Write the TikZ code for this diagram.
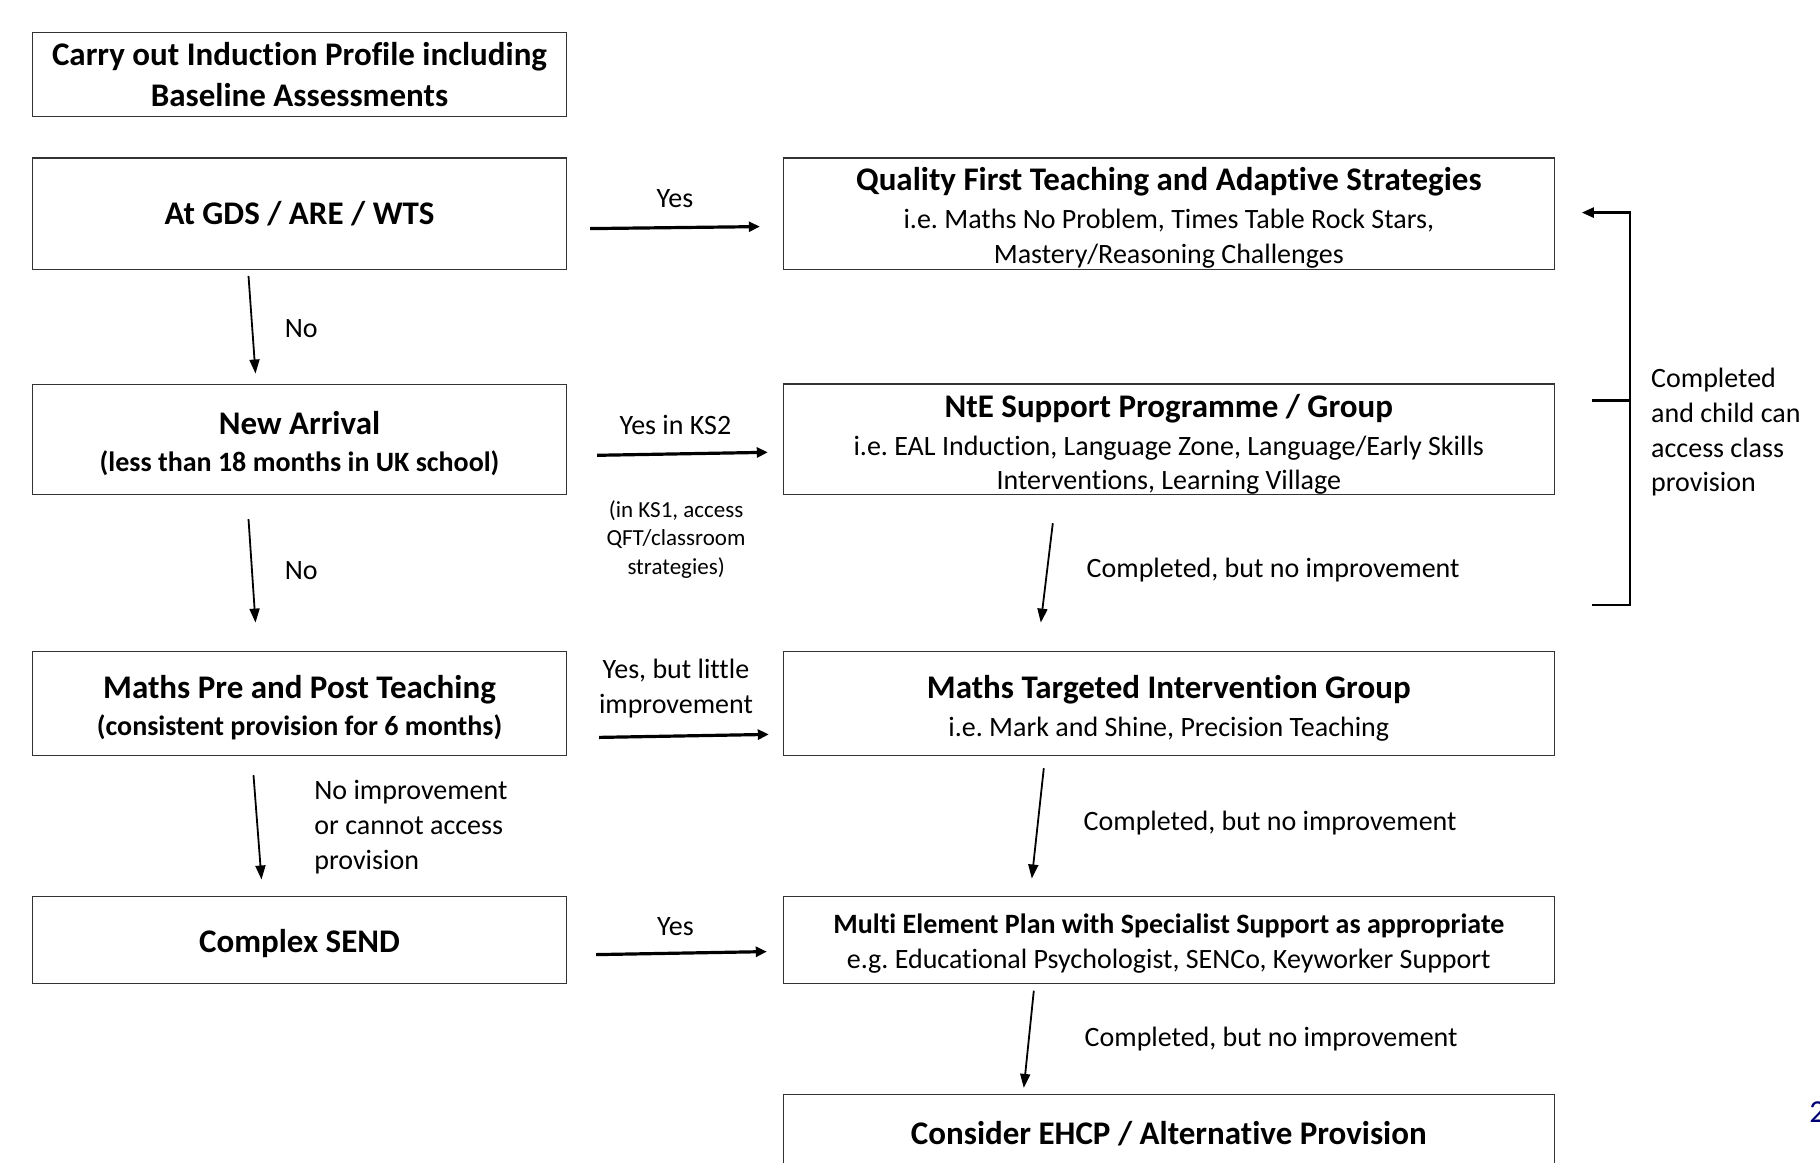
\documentclass[tikz,border=0pt]{standalone}
\usepackage{fontspec}
\setmainfont{Carlito}[Ligatures=NoCommon]
\usetikzlibrary{positioning,calc,arrows.meta}
\newcommand{\boxhead}{\fontsize{16.5}{20.3}\selectfont\bfseries}
\newcommand{\boxtext}{\fontsize{14}{17.4}\selectfont}
\newcommand{\notetext}{\fontsize{11.5}{14.2}\selectfont}
\newcommand{\toplift}[1]{\rule{0pt}{#1}}
\frenchspacing

\begin{document}
\begin{tikzpicture}[x=0.5pt, y=-0.5pt, font=\boxtext]
    \tikzstyle{box}=[draw=black!80, line width=0.6pt, align=center, inner sep=0pt]
    \tikzstyle{lbox}=[box, minimum width=267pt]
    \tikzstyle{rbox}=[box, minimum width=385.4pt]
    \tikzstyle{harrow}=[-{Triangle[length=5.5pt,width=5pt]}, line width=1.6pt]
    \tikzstyle{varrow}=[-{Triangle[length=7pt,width=5pt]}, line width=0.9pt]
    \tikzstyle{lbl}=[inner sep=2pt, align=center]
    \useasboundingbox (0,0) rectangle (1820,1162);

    % left column
    \node (induction) [lbox, minimum height=41.8pt, font=\boxhead] at (299.5,74.3) {Carry out Induction Profile including\\Baseline Assessments};
    \node (gds) [lbox, minimum height=55.7pt, below of=induction, node distance=69.65pt] {\boxhead At GDS / ARE / WTS};
    \node (new) [lbox, minimum height=55.2pt, below of=gds, node distance=112.85pt] {{\boxhead\toplift{16pt}New Arrival}\\[1.2pt]\bfseries (less than 18 months in UK school)};
    \node (pre) [lbox, minimum height=52.2pt, below of=new, node distance=132.05pt] {{\boxhead\toplift{16pt}Maths Pre and Post Teaching}\\[1.2pt]\bfseries (consistent provision for 6 months)};
    \node (send) [lbox, minimum height=43.5pt, below of=pre, node distance=118.1pt] {\boxhead\toplift{15.5pt}Complex SEND};

    % right column
    \node (qft) [rbox, minimum height=55.7pt, right of=gds, node distance=434.65pt] {{\boxhead\toplift{16pt}Quality First Teaching and Adaptive Strategies}\\[1.6pt]i.e. Maths No Problem, Times Table Rock Stars,\\Mastery/Reasoning Challenges};
    \node (nte) [rbox, minimum height=55.2pt, right of=new, node distance=434.65pt] {{\boxhead\toplift{16.5pt}NtE Support Programme / Group}\\[1.6pt]i.e. EAL Induction, Language Zone, Language/Early Skills\\Interventions, Learning Village};
    \node (tgt) [rbox, minimum height=52.2pt, right of=pre, node distance=434.65pt] {{\boxhead\toplift{16pt}Maths Targeted Intervention Group}\\[1.6pt]i.e. Mark and Shine, Precision Teaching};
    \node (mep) [rbox, minimum height=43.5pt, right of=send, node distance=434.65pt] {{\bfseries\toplift{14pt}Multi Element Plan with Specialist Support as appropriate}\\e.g. Educational Psychologist, SENCo, Keyworker Support};
    \node (ehcp) [rbox, minimum height=39.5pt, below of=mep, node distance=97.2pt] {\boxhead Consider EHCP / Alternative Provision};

    % across
    \draw[harrow] ($(gds.east)+(23,15)$) -- node[lbl, above=7pt] {Yes} ($(qft.west)+(-23,13)$);
    \draw[harrow] ($(new.east)+(30,16)$) -- node[lbl, above=7pt, xshift=-3.5pt] {Yes in KS2} ($(nte.west)+(-15,13)$);
    \node (ks1) [lbl, font=\notetext] at ($(new.east)+(109,100)$) {(in KS1, access\\QFT/classroom\\strategies)};
    \draw[harrow] ($(pre.east)+(32,34)$) -- node[lbl, above=6pt, xshift=-4pt] {Yes, but little\\improvement} ($(tgt.west)+(-14,31)$);
    \draw[harrow] ($(send.east)+(29,15)$) -- node[lbl, above=6pt, xshift=-3pt] {Yes} ($(mep.west)+(-16,12)$);

    % down the left
    \draw[varrow] ($(gds.south)+(-51,6)$) -- node[lbl, right=14pt, yshift=-2pt] {No} ($(new.north)+(-44,-10)$);
    \draw[varrow] ($(new.south)+(-51,24)$) -- node[lbl, right=14pt] {No} ($(pre.north)+(-44,-28)$);
    \draw[varrow] ($(pre.south)+(-46,19)$) -- node[lbl, right=26pt, align=left] {No improvement\\or cannot access\\provision} ($(send.north)+(-38,-16)$);

    % down the right
    \draw[varrow] ($(nte.south)+(-116,28)$) -- node[lbl, right=17.5pt, yshift=1.5pt] {Completed, but no improvement} ($(tgt.north)+(-128,-28)$);
    \draw[varrow] ($(tgt.south)+(-125,12)$) -- node[lbl, right=20.5pt] {Completed, but no improvement} ($(mep.north)+(-137,-17)$);
    \draw[varrow] ($(mep.south)+(-135,7)$) -- node[lbl, right=25.5pt] {Completed, but no improvement} ($(ehcp.north)+(-145,-6)$);

    % back to class provision
    \draw[-{Triangle[length=6pt,width=5pt]}, line width=1.2pt] ($(nte.south east)+(37,110)$) -- ++(38,0) |- ($(qft.east)+(27,-1)$);
    \draw[line width=1.2pt] ($(nte.east)+(37,-39)$) -- ++(38,0);
    \node (done) [lbl, align=left, anchor=west, inner sep=0pt] at ($(nte.east)+(96,-7)$) {Completed\\and child can\\access class\\provision};

    \node (pagenum) [anchor=west, inner sep=0pt, text=blue!45!black, font=\fontsize{16}{19}\selectfont] at (1809,1112) {2};
\end{tikzpicture}
\end{document}
